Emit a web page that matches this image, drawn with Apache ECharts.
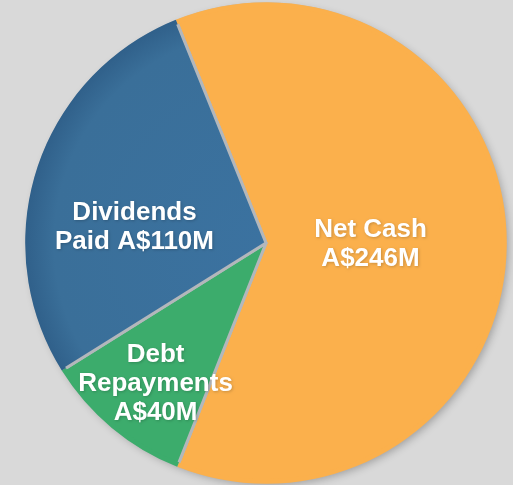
<!DOCTYPE html>
<html>
<head>
<meta charset="utf-8">
<script src="https://cdn.jsdelivr.net/npm/echarts@6/dist/echarts.min.js"></script>
<style>
  html, body { margin: 0; padding: 0; background: #d9d9d9; }
  #chart { width: 513px; height: 485px; }
</style>
</head>
<body>
<div id="chart"></div>
<script>
// slice data, in clockwise order from the top
let names = ['Net Cash', 'Debt Repayments', 'Dividends Paid'];
let values = [246, 40, 110];
let labels = ['Net Cash\nA$246M', 'Debt\nRepayments\nA$40M', 'Dividends\nPaid A$110M'];
let colors = ['#fbb04c', '#3cac6c', '#3a6f99'];

// nudges for the inside labels
let labelShift = [
  { dx: -18, dy: 2 },
  { dx: -32, dy: 47 },
  { dx: -15, dy: 22 },
];

let chart = echarts.init(document.getElementById('chart'));

let cx = 266, cy = 243, r = 239;

// blue slice darkens a little toward the rim
let blueFill = {
  type: 'radial', x: cx, y: cy, r: r + 2, global: true,
  colorStops: [
    { offset: 0, color: '#3b72a0' },
    { offset: 0.88, color: '#3a6f99' },
    { offset: 1, color: '#30608a' },
  ],
};

let sliceColor = (i) => (i == 2 ? blueFill : colors[i]);

let pieData = names.map((n, i) => ({
  name: n,
  value: values[i],
  itemStyle: { color: sliceColor(i) },
  label: { formatter: labels[i] },
}));

let common = {
  type: 'pie',
  center: [cx, cy],
  startAngle: 112,
  clockwise: true,
  animation: false,
  emphasis: { disabled: true },
};

chart.setOption({
  backgroundColor: '#d9d9d9',
  series: [
    {
      // drop shadow under the whole pie
      ...common,
      radius: r,
      silent: true,
      data: [{ value: 1, itemStyle: { color: colors[0] } }],
      itemStyle: {
        borderWidth: 0,
        shadowBlur: 8,
        shadowOffsetX: 3,
        shadowOffsetY: 3,
        shadowColor: 'rgba(0,0,0,0.28)',
      },
      label: { show: false },
      labelLine: { show: false },
    },
    {
      ...common,
      radius: r,
      data: pieData,
      itemStyle: {
        borderColor: '#b3b7bb',
        borderWidth: 3,
      },
      label: {
        position: 'inside',
        color: '#fff',
        fontFamily: "'Liberation Sans', Arial, sans-serif",
        fontWeight: 'bold',
        fontSize: 26,
        lineHeight: 29,
        textShadowBlur: 3,
        textShadowColor: 'rgba(0,0,0,0.2)',
        textShadowOffsetX: 1,
        textShadowOffsetY: 1,
      },
      labelLine: { show: false },
      labelLayout: (p) => labelShift[p.dataIndex],
    },
    {
      // covers the grey border on the outer rim
      ...common,
      radius: [r - 3, r + 1.8],
      silent: true,
      data: names.map((n, i) => ({
        name: n,
        value: values[i],
        itemStyle: { color: sliceColor(i) },
      })),
      itemStyle: { borderWidth: 0 },
      label: { show: false },
      labelLine: { show: false },
    },
  ],
});
</script>
</body>
</html>
